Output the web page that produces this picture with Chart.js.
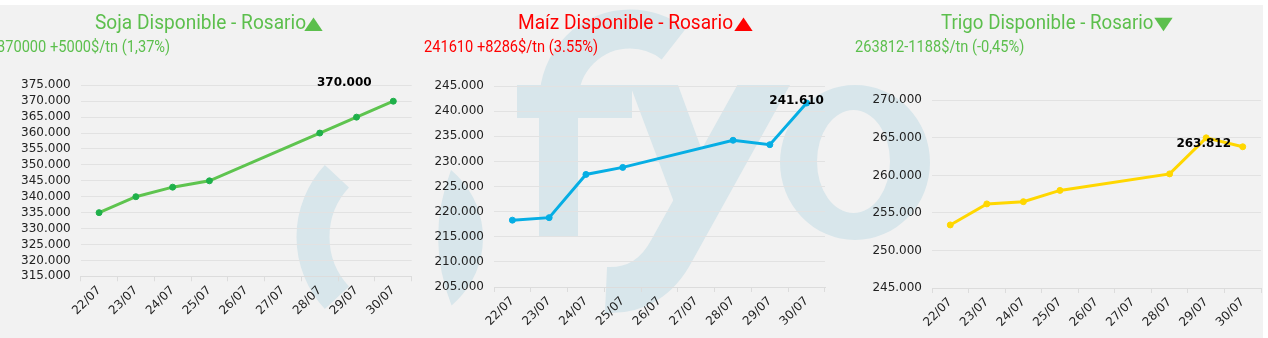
<!DOCTYPE html>
<html>
<head>
<meta charset="utf-8">
<script src="https://cdn.jsdelivr.net/npm/chart.js@4"></script>
<style>
    body { margin: 0; background: #fff; width: 1268px; height: 338px; overflow: hidden; position: relative; }
    #wm { position: absolute; left: 0; top: 0; }
    .box { position: absolute; top: 60px; height: 278px; }
    .title { position: absolute; font-family: Roboto, sans-serif; font-size: 21px; line-height: 21px;
             white-space: nowrap; transform: scaleX(0.91); transform-origin: left top; }
    .sub { position: absolute; font-family: Roboto, sans-serif; font-size: 17px; line-height: 17px;
           white-space: nowrap; transform: scaleX(0.86); transform-origin: left top; }
    .tri { position: absolute; font-family: "Liberation Sans", sans-serif; font-size: 23px; line-height: 23px;
           transform: scaleX(1.36); transform-origin: left top; }
    .green { color: #5cbf4d; }
    .red { color: #ff0000; }
</style>
</head>
<body>
<canvas id="wm" width="1268" height="338"></canvas>

<div class="title green" style="left:95px;top:11.6px">Soja Disponible - Rosario</div>
<div class="tri green" style="left:297.7px;top:11.7px">▲</div>
<div class="sub green" style="left:-3px;top:38.4px">370000 +5000$/tn (1,37%)</div>

<div class="title red" style="left:518px;top:11.6px">Maíz Disponible - Rosario</div>
<div class="tri red" style="left:727.7px;top:11.7px">▲</div>
<div class="sub red" style="left:424px;top:38.4px">241610 +8286$/tn (3.55%)</div>

<div class="title green" style="left:941px;top:11.6px;transform:scaleX(0.89)">Trigo Disponible - Rosario</div>
<div class="tri green" style="left:1147.7px;top:11.7px">▼</div>
<div class="sub green" style="left:855px;top:38.4px">263812-1188$/tn (-0,45%)</div>

<div class="box" style="left:0;width:420px"><canvas id="soja" width="420" height="278"></canvas></div>
<div class="box" style="left:420px;width:420px"><canvas id="maiz" width="420" height="278"></canvas></div>
<div class="box" style="left:840px;width:428px"><canvas id="trigo" width="428" height="278"></canvas></div>

<script>
// Dates on the x axis (26/07 and 27/07 have no quote)
const dates = ['22/07', '23/07', '24/07', '25/07', '26/07', '27/07', '28/07', '29/07', '30/07'];

// Prices in $/tn
const sojaValues = [335000, 340000, 343000, 345000, null, null, 360000, 365000, 370000];
const maizValues = [218300, 218800, 227400, 228800, null, null, 234200, 233324, 241610];
const trigoValues = [253400, 256200, 256500, 258000, null, null, 260200, 265000, 263812];

// y axis ranges [min, max, step]
const sojaTicks = [315000, 375000, 5000];
const maizTicks = [205000, 245000, 5000];
const trigoTicks = [245000, 270000, 5000];

const fmt = v => String(Math.round(v)).replace(/\B(?=(\d{3})+(?!\d))/g, '.');

// watermark behind the charts
function drawWatermark() {
    const ctx = document.getElementById('wm').getContext('2d');
    ctx.fillStyle = '#f2f2f2';
    ctx.fillRect(0, 5, 1263, 333);
    ctx.fillStyle = '#d8e6eb';
    ctx.strokeStyle = '#d8e6eb';

    // "(" in the first panel
    ctx.lineWidth = 33;
    ctx.beginPath();
    ctx.arc(402, 237, 89, 137 * Math.PI / 180, 223 * Math.PI / 180);
    ctx.stroke();

    // ")" in the second panel
    ctx.beginPath();
    ctx.arc(395, 238, 88, -50 * Math.PI / 180, 50 * Math.PI / 180);
    ctx.quadraticCurveTo(425, 238, 451, 170);
    ctx.fill();

    // f
    ctx.fillRect(539, 95, 39, 142);
    ctx.fillRect(517, 85, 115, 33);
    ctx.lineWidth = 39;
    ctx.beginPath();
    ctx.arc(630, 100, 71, Math.PI, -52 * Math.PI / 180);
    ctx.stroke();

    // y
    ctx.save();
    ctx.beginPath();
    ctx.rect(500, 85, 300, 253);
    ctx.clip();
    ctx.beginPath();
    ctx.moveTo(630, 85);
    ctx.lineTo(678, 85);
    ctx.lineTo(722, 205);
    ctx.lineTo(690, 245);
    ctx.closePath();
    ctx.fill();
    ctx.lineWidth = 46;
    ctx.beginPath();
    ctx.moveTo(772, 70);
    ctx.lineTo(672, 250);
    ctx.quadraticCurveTo(650, 292, 606, 290);
    ctx.stroke();
    ctx.restore();

    // o
    ctx.beginPath();
    ctx.ellipse(855, 162.5, 75, 77.5, 0, 0, Math.PI * 2);
    ctx.ellipse(853.5, 161.5, 36.5, 51.5, 0, 0, Math.PI * 2);
    ctx.fill('evenodd');
}

// value of the last point, in bold
const lastLabel = {
    id: 'lastLabel',
    afterDatasetsDraw(chart, args, opts) {
        const data = chart.data.datasets[0].data;
        const i = data.length - 1;
        const pt = chart.getDatasetMeta(0).data[i];
        const ctx = chart.ctx;
        ctx.save();
        ctx.font = 'bold 12px "DejaVu Sans"';
        ctx.fillStyle = '#000';
        ctx.textAlign = 'center';
        ctx.textBaseline = 'middle';
        ctx.fillText(fmt(data[i]), pt.x + opts.dx, pt.y + opts.dy);
        ctx.restore();
    }
};

function makeChart(id, values, ticks, lineColor, pointColor, box) {
    const ctx = document.getElementById(id).getContext('2d');
    return new Chart(ctx, {
        type: 'line',
        data: {
            labels: dates,
            datasets: [{
                data: values,
                borderColor: lineColor,
                borderWidth: 3,
                pointRadius: 3,
                pointBorderWidth: 1,
                pointBackgroundColor: pointColor,
                pointBorderColor: pointColor,
                spanGaps: true,
                tension: 0
            }]
        },
        options: {
            responsive: false,
            animation: false,
            devicePixelRatio: 1,
            layout: { padding: { left: 0, right: box.right, top: box.top, bottom: 0 } },
            plugins: {
                legend: { display: false },
                tooltip: { enabled: false },
                lastLabel: { dx: box.dx, dy: box.dy }
            },
            scales: {
                x: {
                    offset: true,
                    grid: { offset: true, drawOnChartArea: false, drawTicks: true, tickLength: 5, color: '#dcdcdc' },
                    border: { color: '#dcdcdc' },
                    ticks: {
                        autoSkip: false, minRotation: 45, maxRotation: 45, padding: 2,
                        color: '#222', font: { family: 'DejaVu Sans', size: 12 }
                    },
                    afterFit: s => { s.height = box.xh; }
                },
                y: {
                    min: ticks[0],
                    max: ticks[1],
                    grid: { color: '#e2e2e2', drawTicks: false },
                    border: { display: false },
                    ticks: {
                        stepSize: ticks[2], maxTicksLimit: 30, autoSkip: false, padding: 10, color: '#222',
                        font: { family: 'DejaVu Sans', size: 12 },
                        callback: v => fmt(v)
                    },
                    afterFit: s => { s.width = box.yw; }
                }
            }
        },
        plugins: [lastLabel]
    });
}

drawWatermark();
makeChart('soja', sojaValues, sojaTicks, '#5ec44f', '#1fb04a',
    { yw: 80.7, right: 8.3, top: 25.3, xh: 61.7, dx: -49, dy: -18 });
makeChart('maiz', maizValues, maizTicks, '#06aee4', '#06aee4',
    { yw: 74, right: 15, top: 26, xh: 51, dx: -10, dy: -2 });
makeChart('trigo', trigoValues, trigoTicks, '#ffd700', '#ffd700',
    { yw: 92, right: 7, top: 40.3, xh: 50, dx: -39, dy: -2.5 });
</script>
</body>
</html>
